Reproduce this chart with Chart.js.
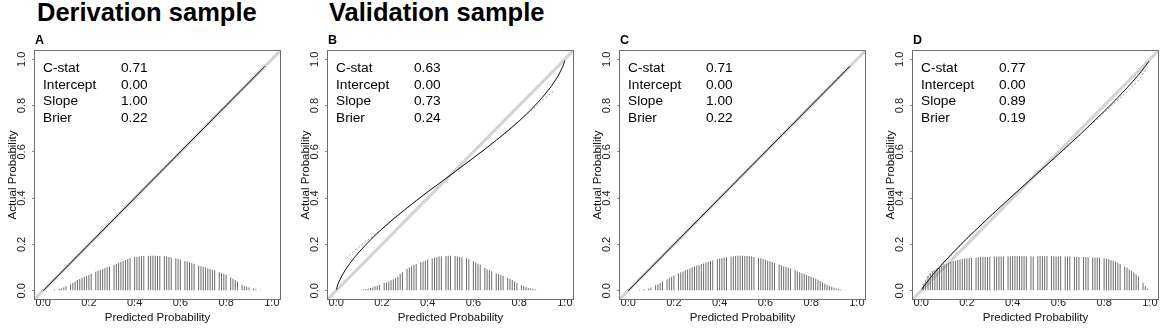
<!DOCTYPE html>
<html>
<head>
<meta charset="utf-8">
<script src="https://cdn.jsdelivr.net/npm/chart.js@4.4.1/dist/chart.umd.min.js"></script>
<style>
    body { margin: 0; background: #fff; font-family: Arial, "Liberation Sans", sans-serif; }
    #page { position: relative; width: 1170px; height: 335px; overflow: hidden; }
    .heading { position: absolute; top: 0; font-weight: bold; font-size: 25.5px; line-height: 25px; color: #000; white-space: nowrap; }
    .panel { position: absolute; top: 0; width: 292px; height: 335px; }
    .panel canvas { position: absolute; left: 0; top: 0; }
    .letter { position: absolute; left: 35px; top: 34px; font-weight: bold; font-size: 12.5px; line-height: 12px; color: #000; }
    .stats { position: absolute; top: 60px; font-size: 13.7px; line-height: 16.7px; color: #000; white-space: nowrap; }
</style>
</head>
<body>
<div id="page">
    <div class="heading" style="left:37px">Derivation sample</div>
    <div class="heading" style="left:329px">Validation sample</div>
</div>

<script>
// ============================================
// Calibration plots — four panels
// ============================================

const probTicks = [0, 0.2, 0.4, 0.6, 0.8, 1.0];
const idealLine = [-0.04, 1.04];

const panelLetters = ["A", "B", "C", "D"];
const panelLefts = [0, 293, 585, 878];

const statNames = ["C-stat", "Intercept", "Slope", "Brier"];
const statsA = ["0.71", "0.00", "1.00", "0.22"];
const statsB = ["0.63", "0.00", "0.73", "0.24"];
const statsC = ["0.71", "0.00", "1.00", "0.22"];
const statsD = ["0.77", "0.00", "0.89", "0.19"];

// logistic calibration (solid black)
const calXA = [0.0, 0.97];
const calYA = [0.0, 0.97];
const calXB = [0.001, 0.003, 0.01, 0.02, 0.04, 0.06, 0.08, 0.10, 0.15, 0.20, 0.25, 0.30, 0.35, 0.40, 0.45, 0.50,
               0.55, 0.60, 0.65, 0.70, 0.75, 0.80, 0.85, 0.90, 0.94, 0.97, 0.99, 0.995, 0.999];
const calYB = [0.006, 0.014, 0.034, 0.055, 0.090, 0.118, 0.144, 0.167, 0.220, 0.267, 0.310, 0.350, 0.389, 0.427, 0.463, 0.500,
               0.537, 0.574, 0.611, 0.650, 0.690, 0.733, 0.780, 0.833, 0.882, 0.927, 0.966, 0.979, 0.994];
const calXC = [0.0, 0.97];
const calYC = [0.0, 0.97];
const calXD = [0.003, 0.01, 0.02, 0.05, 0.10, 0.15, 0.20, 0.30, 0.40, 0.50, 0.60, 0.70, 0.80, 0.85, 0.90, 0.95, 0.98, 0.995];
const calYD = [0.006, 0.017, 0.030, 0.068, 0.124, 0.176, 0.226, 0.320, 0.411, 0.500, 0.589, 0.680, 0.775, 0.824, 0.876, 0.932, 0.970, 0.991];

// nonparametric (dotted grey)
const npXA = [0.03, 0.50, 0.95];
const npYA = [0.03, 0.50, 0.95];
const npXB = [0.045, 0.07, 0.10, 0.15, 0.20, 0.30, 0.40, 0.50, 0.60, 0.70, 0.80, 0.85, 0.90, 0.956];
const npYB = [0.140, 0.165, 0.190, 0.228, 0.265, 0.350, 0.427, 0.500, 0.573, 0.650, 0.735, 0.775, 0.820, 0.867];
const npXC = [0.03, 0.50, 0.95];
const npYC = [0.03, 0.50, 0.95];
const npXD = [0.003, 0.02, 0.04, 0.06, 0.08, 0.10, 0.20, 0.30, 0.40, 0.50, 0.60, 0.70, 0.80, 0.90, 0.95, 0.99];
const npYD = [0.010, 0.045, 0.075, 0.090, 0.100, 0.120, 0.225, 0.320, 0.410, 0.500, 0.588, 0.678, 0.770, 0.860, 0.910, 0.965];

// spike histogram of predicted probabilities
const spikeXA = [0.05, 0.06, 0.07, 0.08, 0.09, 0.10, 0.11, 0.12, 0.13, 0.14, 0.15, 0.16, 0.17, 0.18, 0.19, 0.20,
                 0.21, 0.22, 0.23, 0.24, 0.25, 0.26, 0.27, 0.28, 0.29, 0.30, 0.31, 0.32, 0.33, 0.34, 0.35, 0.36,
                 0.37, 0.38, 0.39, 0.40, 0.41, 0.42, 0.43, 0.44, 0.45, 0.46, 0.47, 0.48, 0.49, 0.50, 0.51, 0.52,
                 0.53, 0.54, 0.55, 0.56, 0.57, 0.58, 0.59, 0.60, 0.61, 0.62, 0.63, 0.64, 0.65, 0.66, 0.67, 0.68,
                 0.69, 0.70, 0.71, 0.72, 0.73, 0.74, 0.75, 0.76, 0.77, 0.78, 0.79, 0.80, 0.81, 0.82, 0.83, 0.84,
                 0.85, 0.86, 0.87, 0.88, 0.89, 0.90, 0.91, 0.92, 0.93, 0.94, 0.95];
const spikeHA = [0.005, 0, 0.007, 0.010, 0.014, 0.019, 0, 0.028, 0.034, 0.040, 0.047, 0.051, 0.055, 0.060, 0.064, 0.068,
                 0.073, 0, 0.082, 0.086, 0.090, 0.094, 0.098, 0.102, 0.105, 0, 0.112, 0.116, 0.120, 0.125, 0.129, 0.133,
                 0.137, 0.140, 0, 0.146, 0.147, 0.148, 0.149, 0.150, 0, 0.150, 0.151, 0.151, 0.151, 0.150, 0.150, 0,
                 0.149, 0.148, 0.146, 0.144, 0, 0.140, 0.138, 0.135, 0, 0.129, 0.126, 0.122, 0.119, 0.115, 0, 0.108,
                 0.106, 0.104, 0.100, 0.097, 0.094, 0.091, 0.088, 0, 0.081, 0.077, 0.073, 0.068, 0, 0.058, 0.052, 0.046,
                 0.040, 0, 0.025, 0.020, 0.017, 0.014, 0, 0.009, 0.006, 0, 0.003];
const spikeXB = [0.08, 0.09, 0.10, 0.11, 0.12, 0.13, 0.14, 0.15, 0.16, 0.17, 0.18, 0.19, 0.20, 0.21, 0.22, 0.23,
                 0.24, 0.25, 0.26, 0.27, 0.28, 0.29, 0.30, 0.31, 0.32, 0.33, 0.34, 0.35, 0.36, 0.37, 0.38, 0.39,
                 0.40, 0.41, 0.42, 0.43, 0.44, 0.45, 0.46, 0.47, 0.48, 0.49, 0.50, 0.51, 0.52, 0.53, 0.54, 0.55,
                 0.56, 0.57, 0.58, 0.59, 0.60, 0.61, 0.62, 0.63, 0.64, 0.65, 0.66, 0.67, 0.68, 0.69, 0.70, 0.71,
                 0.72, 0.73, 0.74, 0.75, 0.76, 0.77, 0.78, 0.79, 0.80, 0.81, 0.82, 0.83, 0.84, 0.85, 0.86, 0.87,
                 0.88, 0.89, 0.90];
const spikeHB = [0.002, 0, 0.002, 0.004, 0.005, 0.007, 0.009, 0.012, 0.015, 0.019, 0.022, 0.026, 0, 0.033, 0.036, 0.040,
                 0.045, 0.050, 0.055, 0.060, 0.072, 0.080, 0, 0.094, 0.100, 0.106, 0.111, 0.115, 0, 0.122, 0.126, 0.130,
                 0.134, 0, 0.139, 0.142, 0.145, 0.148, 0.149, 0, 0.150, 0.151, 0.151, 0, 0.150, 0.149, 0.147, 0.145,
                 0, 0.140, 0.136, 0, 0.127, 0.122, 0.117, 0.112, 0, 0.098, 0.093, 0.088, 0.084, 0, 0.076, 0.072,
                 0.068, 0.064, 0, 0.056, 0.051, 0.046, 0.040, 0.034, 0, 0.024, 0.020, 0.016, 0.012, 0.010, 0.007, 0.005,
                 0, 0.003, 0.002];
const spikeXC = spikeXA;
const spikeHC = [0.004, 0, 0.006, 0, 0.010, 0.014, 0, 0.024, 0.028, 0.033, 0.040, 0, 0.050, 0.056, 0.060, 0.066,
                 0, 0.074, 0.080, 0.083, 0.088, 0.092, 0.097, 0.101, 0.105, 0.108, 0.111, 0.115, 0.118, 0.122, 0.125, 0.128,
                 0.131, 0, 0.136, 0.139, 0.141, 0.143, 0.145, 0, 0.148, 0.149, 0.150, 0.151, 0.151, 0.151, 0.150, 0.150,
                 0.149, 0.148, 0.146, 0, 0.143, 0.140, 0.137, 0.134, 0.131, 0.127, 0.124, 0.120, 0, 0.113, 0.110, 0.106,
                 0.103, 0.099, 0.096, 0, 0.088, 0.084, 0.080, 0.076, 0.072, 0.068, 0.064, 0.060, 0.056, 0.052, 0.047, 0.042,
                 0.037, 0.031, 0.026, 0.021, 0.017, 0.013, 0.010, 0.007, 0.005, 0, 0.003];
const spikeXD = [0.01, 0.02, 0.03, 0.04, 0.05, 0.06, 0.07, 0.08, 0.09, 0.10, 0.11, 0.12, 0.13, 0.14, 0.15, 0.16,
                 0.17, 0.18, 0.19, 0.20, 0.21, 0.22, 0.23, 0.24, 0.25, 0.26, 0.27, 0.28, 0.29, 0.30, 0.31, 0.32,
                 0.33, 0.34, 0.35, 0.36, 0.37, 0.38, 0.39, 0.40, 0.41, 0.42, 0.43, 0.44, 0.45, 0.46, 0.47, 0.48,
                 0.49, 0.50, 0.51, 0.52, 0.53, 0.54, 0.55, 0.56, 0.57, 0.58, 0.59, 0.60, 0.61, 0.62, 0.63, 0.64,
                 0.65, 0.66, 0.67, 0.68, 0.69, 0.70, 0.71, 0.72, 0.73, 0.74, 0.75, 0.76, 0.77, 0.78, 0.79, 0.80,
                 0.81, 0.82, 0.83, 0.84, 0.85, 0.86, 0.87, 0.88, 0.89, 0.90, 0.91, 0.92, 0.93, 0.94, 0.95, 0.96,
                 0.97, 0.98, 0.99];
const spikeHD = [0.025, 0.045, 0.065, 0.075, 0.084, 0.090, 0.096, 0.102, 0.108, 0.113, 0.117, 0.121, 0.125, 0.128, 0.130, 0.133,
                 0.135, 0.137, 0.139, 0.140, 0.141, 0.142, 0, 0.143, 0.145, 0.147, 0.147, 0.146, 0.146, 0.147, 0, 0.148,
                 0.148, 0.148, 0.148, 0.148, 0, 0.149, 0.149, 0.149, 0.150, 0.149, 0.149, 0.149, 0.150, 0.149, 0, 0.149,
                 0.148, 0, 0.149, 0.150, 0.150, 0.149, 0.150, 0, 0.149, 0.149, 0.148, 0.148, 0.149, 0, 0.148, 0.148,
                 0.148, 0, 0.147, 0.147, 0.146, 0, 0.146, 0.146, 0.145, 0, 0.144, 0.143, 0.142, 0.142, 0, 0.140,
                 0.138, 0.136, 0.133, 0.130, 0.126, 0.121, 0.116, 0, 0.105, 0.099, 0.092, 0.086, 0.079, 0.070, 0.061, 0,
                 0.035, 0.020, 0.008];

const panels = [
    { stats: statsA, calX: calXA, calY: calYA, npX: npXA, npY: npYA, spikeX: spikeXA, spikeH: spikeHA },
    { stats: statsB, calX: calXB, calY: calYB, npX: npXB, npY: npYB, spikeX: spikeXB, spikeH: spikeHB },
    { stats: statsC, calX: calXC, calY: calYC, npX: npXC, npY: npYC, spikeX: spikeXC, spikeH: spikeHC },
    { stats: statsD, calX: calXD, calY: calYD, npX: npXD, npY: npYD, spikeX: spikeXD, spikeH: spikeHD }
];

// R-style box round the plot region
const boxPlugin = {
    id: "plotBox",
    afterDatasetsDraw(chart) {
        const a = chart.chartArea;
        const ctx = chart.ctx;
        ctx.save();
        ctx.strokeStyle = "#6e6e6e";
        ctx.lineWidth = 1;
        ctx.strokeRect(Math.round(a.left) + 0.5, Math.round(a.top) + 0.5,
            Math.round(a.right - a.left) - 1, Math.round(a.bottom - a.top) - 1);
        ctx.restore();
    }
};

function pts(xs, ys) {
    return xs.map((x, i) => ({ x: x, y: ys[i] }));
}

function axis(titleText, vertical) {
    return {
        type: "linear",
        min: -0.04,
        max: 1.04,
        offset: false,
        afterBuildTicks: s => { s.ticks = probTicks.map(v => ({ value: v })); },
        afterFit: s => { if (vertical) s.width = 34; else s.height = 35; },
        grid: { offset: false, drawOnChartArea: false, drawTicks: true, tickLength: 2, tickColor: "#8a8a8a" },
        border: { display: false },
        ticks: {
            autoSkip: false,
            padding: vertical ? 2 : 1,
            color: "#222",
            font: { family: "Arial, 'Liberation Sans'", size: 11, lineHeight: 1 },
            minRotation: vertical ? 90 : 0,
            maxRotation: vertical ? 90 : 0,
            crossAlign: "center",
            callback: v => v.toFixed(1)
        },
        title: {
            display: true,
            text: titleText,
            color: "#111",
            font: { family: "Arial, 'Liberation Sans'", size: 11.5 },
            padding: vertical ? { top: 5.6, bottom: 0 } : { top: 0, bottom: 10 }
        }
    };
}

function drawPanel(i) {
    const p = panels[i];
    const page = document.getElementById("page");

    const wrap = document.createElement("div");
    wrap.className = "panel";
    wrap.style.left = panelLefts[i] + "px";
    wrap.innerHTML = `
        <canvas width="292" height="335"></canvas>
        <div class="letter">${panelLetters[i]}</div>
        <div class="stats" style="left:43px">${statNames.join("<br>")}</div>
        <div class="stats" style="left:121px">${p.stats.join("<br>")}</div>`;
    page.appendChild(wrap);

    new Chart(wrap.querySelector("canvas"), {
        type: "scatter",
        data: {
            datasets: [
                { type: "scatter", showLine: true, data: pts(p.calX, p.calY), borderColor: "#111",
                  borderWidth: 1, pointRadius: 0, order: 1 },
                { type: "scatter", showLine: true, data: pts(p.npX, p.npY), borderColor: "#9a9a9a",
                  borderWidth: 1, borderDash: [2, 2], pointRadius: 0, order: 2 },
                { type: "bar", data: pts(p.spikeX, p.spikeH), backgroundColor: "#6c6c6c",
                  barThickness: 1, inflateAmount: 0, order: 3 },
                { type: "scatter", showLine: true, data: pts(idealLine, idealLine), borderColor: "#d4d4d4",
                  borderWidth: 3, pointRadius: 0, order: 4 }
            ]
        },
        options: {
            responsive: false,
            animation: false,
            events: [],
            layout: { padding: { top: 50, right: 11, left: 0, bottom: 0 } },
            plugins: { legend: { display: false }, tooltip: { enabled: false } },
            scales: {
                x: axis("Predicted Probability", false),
                y: axis("Actual Probability", true)
            }
        },
        plugins: [boxPlugin]
    });
}

document.addEventListener("DOMContentLoaded", () => {
    panels.forEach((p, i) => drawPanel(i));
});
</script>
</body>
</html>
